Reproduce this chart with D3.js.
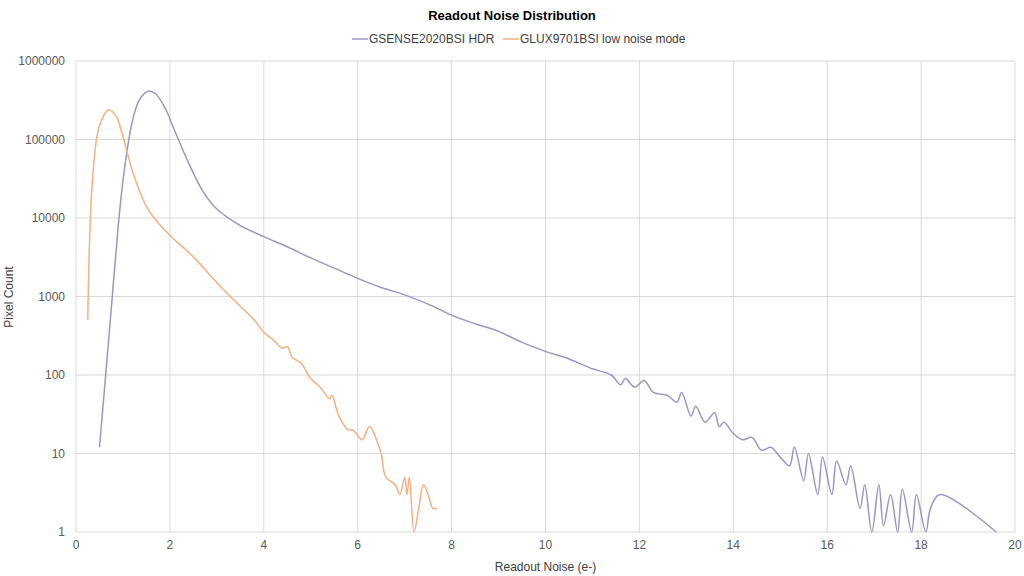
<!DOCTYPE html>
<html><head><meta charset="utf-8">
<script src="https://cdn.jsdelivr.net/npm/d3@7"></script>
<style>body{margin:0;background:#fff;font-family:"Liberation Sans",Arial,sans-serif}</style>
</head><body><svg id="chart" width="1024" height="576"></svg>
<script>
// readout noise (e-) and pixel counts
const gsenseX = [0.5,0.7,0.9,1.0,1.1,1.2,1.35,1.55,1.7,1.9,2.1,2.4,2.7,3.0,3.5,4,4.5,5,5.5,6,6.5,7,7.5,8,8.5,9,9.5,10,10.5,11,11.4,11.6,11.7,11.9,12.1,12.3,12.6,12.8,12.9,13.1,13.2,13.4,13.6,13.7,13.8,14,14.2,14.4,14.6,14.8,15,15.2,15.3,15.5,15.6,15.8,15.9,16.1,16.2,16.4,16.5,16.7,16.8,16.95,17.1,17.2,17.35,17.5,17.6,17.8,17.9,18.1,18.2,18.4,19.6]
const gsenseY = [12,300,8000,30000,80000,170000,320000,415000,380000,250000,130000,50000,22000,13000,8000,5800,4300,3100,2300,1700,1300,1050,800,580,450,360,260,200,160,120,100,75,90,70,85,60,55,45,60,30,40,25,33,22,25,18,15,16,11,12,9,7,12,4.5,10,3,9,3,8,4,7,2,4,1,4,1.2,3,1,3.5,1,3,1,2,3,1]
const gluxX = [0.25,0.35,0.5,0.7,0.85,1.0,1.2,1.5,1.8,2,2.5,3,3.5,3.8,4,4.2,4.4,4.5,4.6,4.8,5,5.2,5.4,5.45,5.6,5.8,5.9,6.0,6.1,6.25,6.4,6.5,6.6,6.8,6.9,7.0,7.05,7.1,7.2,7.3,7.4,7.5,7.6,7.7]
const gluxY = [500,30000,150000,240000,200000,110000,40000,14000,8000,6000,3200,1500,750,500,350,280,220,230,170,140,90,70,50,55,30,20,20,17,15,22,15,10,5,4,3,5,3,5,1,2,4,3,2,2]
const seriesNames = ['GSENSE2020BSI HDR','GLUX9701BSI low noise mode']
const seriesColors = ['#a094c4','#f4b183']
const yTicks = [1,10,100,1000,10000,100000,1000000]

const svg = d3.select('#chart')
const m = {left:76, right:9, top:61, bottom:44}
const W = 1024, H = 576

const x = d3.scaleLinear().domain([0,20]).range([m.left, W-m.right])
const y = d3.scaleLog().domain([1,1e6]).range([H-m.bottom, m.top])

// grid
svg.append('g').selectAll('line').data(d3.range(0,21,2)).join('line')
  .attr('x1', d => x(d)).attr('x2', d => x(d))
  .attr('y1', y(1)).attr('y2', y(1e6)).attr('stroke','#d9d9d9')
svg.append('g').selectAll('line').data(yTicks).join('line')
  .attr('x1', x(0)).attr('x2', x(20))
  .attr('y1', d => y(d)).attr('y2', d => y(d)).attr('stroke','#d9d9d9')

// tick labels
svg.append('g').selectAll('text').data(d3.range(0,21,2)).join('text')
  .attr('x', d => x(d)).attr('y', y(1)+17).attr('text-anchor','middle')
  .attr('font-size',12).attr('fill','#595959').text(d => d)
svg.append('g').selectAll('text').data(yTicks).join('text')
  .attr('x', x(0)-11).attr('y', d => y(d)+4).attr('text-anchor','end')
  .attr('font-size',12).attr('fill','#595959').text(d => d)

svg.append('clipPath').attr('id','clip').append('rect')
  .attr('x', x(0)).attr('y', y(1e6)).attr('width', x(20)-x(0)).attr('height', y(1)-y(1e6)+1)

const line = d3.line().x(d => x(d[0])).y(d => y(d[1])).curve(d3.curveCatmullRom.alpha(0.5))
const plot = svg.append('g').attr('clip-path','url(#clip)')
plot.append('path').datum(d3.zip(gsenseX, gsenseY)).attr('d', line)
  .attr('fill','none').attr('stroke',seriesColors[0]).attr('stroke-width',1.5)
plot.append('path').datum(d3.zip(gluxX, gluxY)).attr('d', line)
  .attr('fill','none').attr('stroke',seriesColors[1]).attr('stroke-width',1.5)

// title, axis titles
svg.append('text').attr('x',512).attr('y',20).attr('text-anchor','middle')
  .attr('font-size',13).attr('font-weight','bold').attr('fill','#000').text('Readout Noise Distribution')
svg.append('text').attr('x', (x(0)+x(20))/2).attr('y',571).attr('text-anchor','middle')
  .attr('font-size',12).attr('fill','#404040').text('Readout Noise (e-)')
svg.append('text').attr('transform','translate(13,297) rotate(-90)').attr('text-anchor','middle')
  .attr('font-size',12).attr('fill','#404040').text('Pixel Count')

// legend
const lx = [352, 503]
seriesNames.forEach((n,i) => {
  svg.append('line').attr('x1',lx[i]).attr('x2',lx[i]+16).attr('y1',39).attr('y2',39)
    .attr('stroke',seriesColors[i]).attr('stroke-width',1.5)
  svg.append('text').attr('x',lx[i]+17).attr('y',43).attr('font-size',12)
    .attr('fill','#404040').text(n)
})
</script></body></html>
